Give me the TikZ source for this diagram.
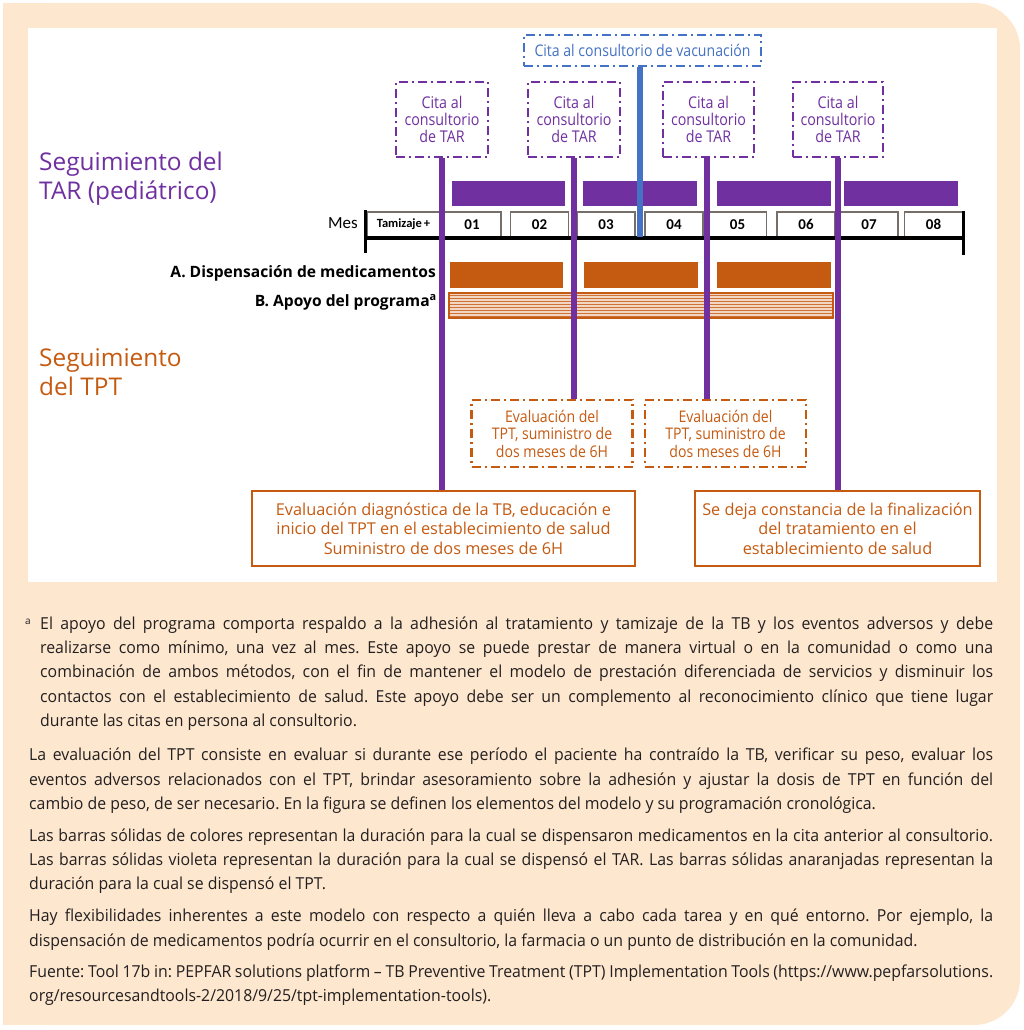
\documentclass[tikz,border=0pt]{standalone}
\usepackage{fontspec}
\setmainfont{Open Sans}
\newfontfamily\narrowfont[FakeStretch=0.88]{Open Sans}
\newfontfamily\notefont[FakeStretch=0.96]{Open Sans}
\newfontfamily\calfont{Carlito}
\newcommand{\fullline}[2]{\makebox[#1][s]{#2}}
\frenchspacing
\definecolor{purp}{RGB}{112,48,160}
\definecolor{orng}{RGB}{197,90,17}
\definecolor{blu}{RGB}{68,114,196}
\definecolor{peach}{RGB}{253,231,206}
\definecolor{boxgray}{RGB}{118,110,104}
\definecolor{stripebg}{RGB}{242,216,196}
\definecolor{notegray}{RGB}{35,31,32}
\begin{document}
\begin{tikzpicture}[x=1pt,y=-1pt,
  ddash/.style={line width=2.4pt, dash pattern=on 9pt off 4pt on 2pt off 4pt},
  cita/.style={draw=purp, ddash, text=purp, minimum width=92pt, minimum height=75pt, inner sep=0pt, align=center, font=\narrowfont\fontsize{16.2}{17}\selectfont},
  evalbox/.style={draw=orng, ddash, text=orng, minimum width=161pt, minimum height=67pt, inner sep=0pt, align=center, font=\narrowfont\fontsize{16}{17.5}\selectfont},
  vacbox/.style={draw=blu, ddash, text=blu, minimum width=237pt, minimum height=31pt, inner sep=0pt, font=\narrowfont\fontsize{16}{17}\selectfont},
  outbox/.style={draw=orng, line width=2pt, text=orng, minimum height=75pt, inner sep=0pt, align=center, font=\fontsize{16.3}{19.5}\selectfont},
  month/.style={draw=boxgray, line width=1.2pt, fill=white, minimum width=58pt, minimum height=25pt, inner sep=0pt, font=\calfont\bfseries\fontsize{15}{15}\selectfont},
  vline/.style={purp, line width=6pt},
  bline/.style={blu, line width=6pt},
  titlenode/.style={anchor=north west, inner sep=0pt, align=left, font=\fontsize{24.4}{29}\selectfont},
  lab/.style={anchor=base east, inner sep=0pt, font=\bfseries\fontsize{15.6}{18}\selectfont},
  note/.style={anchor=north west, inner sep=0pt, align=left, text=notegray, font=\notefont\fontsize{16.5}{24.3}\selectfont},
]
\useasboundingbox (0,0) rectangle (1024,1030);
% background
\fill[peach, rounded corners=46pt] (3,3) rectangle (1020,1025);
\fill[peach] (3,3) rectangle (200,1025);
\fill[white] (28,28) rectangle (997,582);

% titles
\node[titlenode, text=purp] (tar) at (39,151.5) {Seguimiento del\\TAR (pediátrico)};
\node[titlenode, text=orng] (tpt) at (39,348.2) {Seguimiento\\del TPT};

% ART bars
\fill[purp] (452,181) rectangle (565,206);
\fill[purp] (583,181) rectangle (697,206);
\fill[purp] (717,181) rectangle (831,206);
\fill[purp] (844,181) rectangle (958,206);

% TPT bars
\fill[orng] (450,262) rectangle (563,288);
\fill[orng] (584,262) rectangle (698,288);
\fill[orng] (717,262) rectangle (831,288);

% program support bar
\fill[stripebg] (449,293) rectangle (833,318);
\foreach \yy in {295.5,298.5,...,316.5} \draw[orng!85, line width=0.8pt] (449,\yy) -- (833,\yy);
\draw[orng, line width=1.2pt] (449,293) rectangle (833,318);

% months
\node[anchor=base east, inner sep=0pt, font=\calfont\fontsize{17}{17}\selectfont] (mes) at (358,228.5) {Mes};
\node[month, minimum width=73pt] (m0) at (403.5,224.5) {\fontsize{12.5}{13}\selectfont Tamizaje\,+};
\node[month] (m1) at (472,224.5) {01};
\node[month] (m2) at (539.5,224.5) {02};
\node[month] (m3) at (606,224.5) {03};
\node[month] (m4) at (674,224.5) {04};
\node[month] (m5) at (737.5,224.5) {05};
\node[month] (m6) at (806,224.5) {06};
\node[month] (m7) at (869,224.5) {07};
\node[month] (m8) at (933.5,224.5) {08};
\draw[line width=4pt] (365,238) -- (962,238);
\draw[line width=3pt] (365,210) -- (365,253);
\draw[line width=3pt] (963,211) -- (963,255);

% row labels
\node[lab] (labA) at (436,277.5) {A. Dispensación de medicamentos};
\node[lab] (labB) at (437,306) {B. Apoyo del programa\textsuperscript{a}};

% top boxes
\node[vacbox] (V) at (642.5,50.5) {Cita al consultorio de vacunación};
\node[cita] (T1) at (442,119.5) {Cita al\\consultorio\\de TAR};
\node[cita] (T2) at (574,119.5) {Cita al\\consultorio\\de TAR};
\node[cita, minimum width=91pt] (T3) at (708.5,119.5) {Cita al\\consultorio\\de TAR};
\node[cita, minimum width=90pt] (T4) at (838,119.5) {Cita al\\consultorio\\de TAR};

% lower boxes
\node[evalbox] (E1) at (552,433.5) {Evaluación del\\TPT, suministro de\\dos meses de 6H};
\node[evalbox] (E2) at (725.5,433.5) {Evaluación del\\TPT, suministro de\\dos meses de 6H};
\node[outbox, minimum width=383pt] (B1) at (443.5,528.5) {Evaluación diagnóstica de la TB, educación e\\inicio del TPT en el establecimiento de salud\\Suministro de dos meses de 6H};
\node[outbox, minimum width=285pt] (B2) at (837.5,528.5) {Se deja constancia de la finalización\\del tratamiento en el\\establecimiento de salud};

% connectors
\draw[vline] (T1.south) -- (T1.south |- B1.north);
\draw[vline] (T2.south) -- (T2.south |- E1.north);
\draw[vline] ([xshift=-1.5pt]T3.south) -- ([xshift=-1.5pt]T3.south |- E2.north);
\draw[vline] (T4.south) -- (T4.south |- B2.north);
\coordinate (vx) at (640,237);
\draw[bline] (V.south -| vx) -- (vx);

% notes
\node[anchor=base west, inner sep=0pt, text=notegray, font=\fontsize{10}{10}\selectfont] (sup) at (25,624) {a};
\node[note] (p1) at (40,616.3) {%
\fullline{953pt}{El apoyo del programa comporta respaldo a la adhesión al tratamiento y tamizaje de la TB y los eventos adversos y debe}\\
\fullline{953pt}{realizarse como mínimo, una vez al mes. Este apoyo se puede prestar de manera virtual o en la comunidad o como una}\\
\fullline{953pt}{combinación de ambos métodos, con el fin de mantener el modelo de prestación diferenciada de servicios y disminuir los}\\
\fullline{953pt}{contactos con el establecimiento de salud. Este apoyo debe ser un complemento al reconocimiento clínico que tiene lugar}\\
durante las citas en persona al consultorio.};
\node[note] (p2) at (29,748) {%
\fullline{964pt}{La evaluación del TPT consiste en evaluar si durante ese período el paciente ha contraído la TB, verificar su peso, evaluar los}\\
\fullline{964pt}{eventos adversos relacionados con el TPT, brindar asesoramiento sobre la adhesión y ajustar la dosis de TPT en función del}\\
cambio de peso, de ser necesario. En la figura se definen los elementos del modelo y su programación cronológica.};
\node[note] (p3) at (29,828.3) {%
\fullline{964pt}{Las barras sólidas de colores representan la duración para la cual se dispensaron medicamentos en la cita anterior al consultorio.}\\
\fullline{964pt}{Las barras sólidas violeta representan la duración para la cual se dispensó el TAR. Las barras sólidas anaranjadas representan la}\\
duración para la cual se dispensó el TPT.};
\node[note] (p4) at (29,909) {%
\fullline{964pt}{Hay flexibilidades inherentes a este modelo con respecto a quién lleva a cabo cada tarea y en qué entorno. Por ejemplo, la}\\
dispensación de medicamentos podría ocurrir en el consultorio, la farmacia o un punto de distribución en la comunidad.};
\node[note] (p5) at (29,964.6) {%
\fullline{964pt}{Fuente: Tool 17b in: PEPFAR solutions platform – TB Preventive Treatment (TPT) Implementation Tools (https://www.pepfarsolutions.}\\
org/resourcesandtools-2/2018/9/25/tpt-implementation-tools).};
\end{tikzpicture}
\end{document}
